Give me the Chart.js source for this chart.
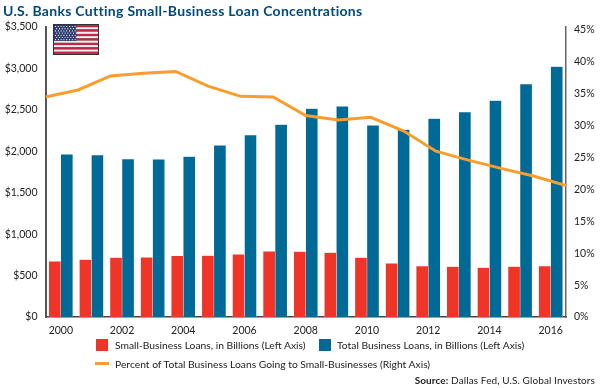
<!DOCTYPE html>
<html>
<head>
<meta charset="utf-8">
<style>
  html, body { margin: 0; padding: 0; background: #fff; }
  #wrap { position: relative; width: 600px; height: 388px; overflow: hidden; font-family: Lato, sans-serif; color: #222; }
  canvas { position: absolute; left: 0; top: 0; }
  #title { position: absolute; left: 3px; top: 2px; font-size: 14px; font-weight: 700; color: #004a7c; letter-spacing: 0.3px; white-space: nowrap; }
  .leg { position: absolute; font-size: 10.3px; line-height: 14px; white-space: nowrap; }
  .swatch { position: absolute; }
  #source { position: absolute; right: 5px; top: 373px; font-size: 10px; line-height: 14px; white-space: nowrap; letter-spacing: 0.1px; }
  #flag { position: absolute; left: 53px; top: 24px; }
</style>
</head>
<body>
<div id="wrap">
  <canvas id="myChart" width="600" height="388"></canvas>
  <div id="title">U.S. Banks Cutting Small-Business Loan Concentrations</div>
  <svg id="flag" width="46" height="31" viewBox="0 0 46 31">
    <rect width="46" height="31" fill="#333"/>
    <g id="stripes"></g>
    <rect x="1" y="1" width="22.5" height="16" fill="#2f3b73"/>
    <g id="stars"></g>
  </svg>
  <div class="swatch" style="left:96px;top:339px;width:12px;height:12px;background:#f03427"></div>
  <div class="leg" style="left:115px;top:338px" id="leg0"></div>
  <div class="swatch" style="left:319px;top:339px;width:12px;height:12px;background:#006a96"></div>
  <div class="leg" style="left:337px;top:338px" id="leg1"></div>
  <div class="swatch" style="left:95px;top:362px;width:14px;height:3px;background:#f99d2c"></div>
  <div class="leg" style="left:115px;top:357px" id="leg2"></div>
  <div id="source"><b>Source:</b> Dallas Fed, U.S. Global Investors</div>
</div>
<script src="https://cdn.jsdelivr.net/npm/chart.js"></script>
<script>
const years = [2000, 2001, 2002, 2003, 2004, 2005, 2006, 2007, 2008, 2009, 2010, 2011, 2012, 2013, 2014, 2015, 2016];
const smallLoans = [672, 693, 716, 720, 737, 741, 757, 793, 789, 777, 716, 648, 616, 608, 596, 608, 616];
const totalLoans = [1963, 1955, 1907, 1903, 1936, 2072, 2197, 2322, 2515, 2543, 2313, 2262, 2394, 2474, 2611, 2811, 3022];
const percentSmall = [34.5, 35.6, 37.8, 38.2, 38.5, 36.2, 34.6, 34.5, 31.6, 30.9, 31.3, 29.2, 26.0, 24.6, 23.3, 22.1, 20.6];
const leftTicks = [0, 500, 1000, 1500, 2000, 2500, 3000, 3500];
const rightTicks = [0, 5, 10, 15, 20, 25, 30, 35, 40, 45];
const seriesNames = [
    'Small-Business Loans, in Billions (Left Axis)',
    'Total Business Loans, in Billions (Left Axis)',
    'Percent of Total Business Loans Going to Small-Businesses (Right Axis)'
];

seriesNames.forEach((n, i) => { document.getElementById('leg' + i).textContent = n; });

// flag bits
const ns = 'http://www.w3.org/2000/svg';
for (let i = 0; i < 13; i++) {
    const r = document.createElementNS(ns, 'rect');
    r.setAttribute('x', 1); r.setAttribute('width', 44);
    r.setAttribute('y', 1 + i * 29 / 13); r.setAttribute('height', 29 / 13);
    r.setAttribute('fill', i % 2 ? '#f4eef0' : '#c0284a');
    document.getElementById('stripes').appendChild(r);
}
for (let row = 0; row < 7; row++) {
    for (let col = 0; col < 8; col++) {
        const c = document.createElementNS(ns, 'circle');
        c.setAttribute('cx', 2.5 + col * 2.8 + (row % 2 ? 1.2 : 0));
        c.setAttribute('cy', 2.5 + row * 2.2);
        c.setAttribute('r', 0.6);
        c.setAttribute('fill', '#fff');
        document.getElementById('stars').appendChild(c);
    }
}

const tickFont = { family: 'Lato, sans-serif', size: 10.5 };
const barEdge = 'rgba(255,255,255,0.35)';

new Chart(document.getElementById('myChart'), {
    data: {
        labels: years,
        datasets: [
            { type: 'line', label: seriesNames[2], data: years.map((y, i) => ({ x: y, y: percentSmall[i] })), xAxisID: 'xLine', yAxisID: 'yRight', borderColor: '#f99d2c', borderWidth: 3, pointRadius: 0, tension: 0, order: 0 },
            { type: 'bar', label: seriesNames[0], data: smallLoans, yAxisID: 'yLeft', backgroundColor: '#f03427', borderColor: barEdge, borderWidth: 0.5, barThickness: 12, order: 1 },
            { type: 'bar', label: seriesNames[1], data: totalLoans, yAxisID: 'yLeft', backgroundColor: '#006a96', borderColor: barEdge, borderWidth: 0.5, barThickness: 12, order: 1 }
        ]
    },
    options: {
        responsive: false,
        animation: false,
        layout: { padding: { top: 27, right: 0, bottom: 0, left: 0 } },
        plugins: { legend: { display: false }, tooltip: { enabled: false } },
        scales: {
            x: {
                grid: { display: false, drawTicks: false },
                border: { color: '#444', width: 1.5 },
                ticks: {
                    font: tickFont, color: '#222', maxRotation: 0, autoSkip: false, padding: 7,
                    callback: function(value, index) { return index % 2 === 0 ? years[index] : ''; }
                },
                afterFit(axis) { axis.height = 71; }
            },
            // the orange line runs edge to edge, not on the bar centres
            xLine: { type: 'linear', display: false, min: 2000, max: 2016 },
            yLeft: {
                position: 'left', min: 0, max: 3500,
                grid: { display: false, drawTicks: true, tickLength: 4, tickColor: '#333' },
                border: { display: true, color: '#555', width: 2 },
                afterBuildTicks(axis) { axis.ticks = leftTicks.map(v => ({ value: v })); },
                ticks: {
                    font: tickFont, color: '#222', padding: 4,
                    callback: function(value) { return '$' + value.toLocaleString('en-US'); }
                },
                afterFit(axis) { axis.width = 45.5; }
            },
            yRight: {
                position: 'right', min: 0, max: 45.47,
                grid: { display: false, drawOnChartArea: false, drawTicks: true, tickLength: 4, tickColor: '#333' },
                border: { display: true, color: '#666', width: 1.5 },
                afterBuildTicks(axis) { axis.ticks = rightTicks.map(v => ({ value: v })); },
                ticks: {
                    font: tickFont, color: '#222', padding: 4,
                    callback: function(value) { return value + '%'; }
                },
                afterFit(axis) { axis.width = 34; }
            }
        }
    }
});
</script>
</body>
</html>
